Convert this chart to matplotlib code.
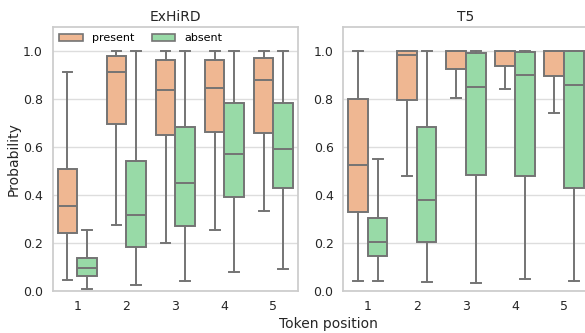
import matplotlib
matplotlib.use("Agg")
import matplotlib.pyplot as plt
from matplotlib.patches import Patch

# box summary per token position: whislo, q1, median, q3, whishi
positions = [1, 2, 3, 4, 5]
groups = ["present", "absent"]

exhird_present = [
    [0.045, 0.240, 0.353, 0.509, 0.912],
    [0.272, 0.696, 0.911, 0.979, 1.000],
    [0.198, 0.649, 0.838, 0.960, 1.000],
    [0.251, 0.662, 0.845, 0.962, 1.000],
    [0.333, 0.657, 0.879, 0.968, 1.000],
]
exhird_absent = [
    [0.008, 0.061, 0.093, 0.138, 0.255],
    [0.024, 0.183, 0.314, 0.541, 1.000],
    [0.042, 0.268, 0.449, 0.683, 1.000],
    [0.078, 0.389, 0.569, 0.784, 1.000],
    [0.092, 0.428, 0.589, 0.781, 1.000],
]
t5_present = [
    [0.042, 0.326, 0.522, 0.798, 1.000],
    [0.480, 0.795, 0.982, 0.998, 1.000],
    [0.803, 0.923, 0.998, 0.999, 1.000],
    [0.840, 0.937, 0.998, 0.999, 1.000],
    [0.739, 0.895, 0.998, 0.999, 1.000],
]
t5_absent = [
    [0.042, 0.144, 0.202, 0.305, 0.547],
    [0.035, 0.201, 0.378, 0.681, 1.000],
    [0.032, 0.481, 0.847, 0.992, 1.000],
    [0.047, 0.476, 0.898, 0.996, 1.000],
    [0.042, 0.427, 0.859, 0.997, 1.000],
]

colors = ["#efb792", "#98daa7"]
edge = "#747474"
text_c = "#262626"


def to_stats(rows):
    return [dict(whislo=r[0], q1=r[1], med=r[2], q3=r[3], whishi=r[4], fliers=[])
            for r in rows]


def draw(ax, present, absent, title):
    for k, (data, col) in enumerate(zip([present, absent], colors)):
        off = -0.2 if k == 0 else 0.2
        pos = [p - 1 + off for p in positions]
        ax.bxp(to_stats(data), positions=pos, widths=0.4, patch_artist=True,
               showfliers=False, manage_ticks=False,
               boxprops=dict(facecolor=col, edgecolor=edge, linewidth=1.4),
               whiskerprops=dict(color=edge, linewidth=1.4),
               capprops=dict(color=edge, linewidth=1.4),
               medianprops=dict(color=edge, linewidth=1.4), zorder=3)
    ax.set_xlim(-0.5, 4.5)
    ax.set_ylim(0, 1.1)
    ax.set_xticks(range(len(positions)))
    ax.set_xticklabels([str(p) for p in positions])
    ax.set_yticks([0.0, 0.2, 0.4, 0.6, 0.8, 1.0])
    ax.set_yticklabels(["0.0", "0.2", "0.4", "0.6", "0.8", "1.0"])
    ax.tick_params(length=0, pad=7, labelsize=9, colors=text_c)
    ax.grid(axis="y", color="#dddddd", linewidth=1.0, zorder=0)
    ax.set_axisbelow(True)
    for s in ax.spines.values():
        s.set_color("#cccccc")
        s.set_linewidth(1.25)
    ax.set_title(title, fontsize=10, color=text_c, pad=4)


fig = plt.figure(figsize=(5.85, 3.33), dpi=100)
ax1 = fig.add_axes([0.0901, 0.127, 0.4193, 0.7928])
ax2 = fig.add_axes([0.5868, 0.127, 0.4193, 0.7928])

draw(ax1, exhird_present, exhird_absent, "ExHiRD")
draw(ax2, t5_present, t5_absent, "T5")

ax1.set_ylabel("Probability", fontsize=10, color=text_c, labelpad=2)

handles = [Patch(facecolor=c, edgecolor=edge, linewidth=1.2, label=g)
           for c, g in zip(colors, groups)]
ax1.legend(handles=handles, loc="upper left", ncol=2, fontsize=8,
           frameon=False, handlelength=2.1, columnspacing=1.6,
           borderaxespad=0.2)

fig.text(0.561, 0.005, "Token position", ha="center", va="bottom",
         fontsize=10, color=text_c)

fig.savefig("out.png", dpi=100)
